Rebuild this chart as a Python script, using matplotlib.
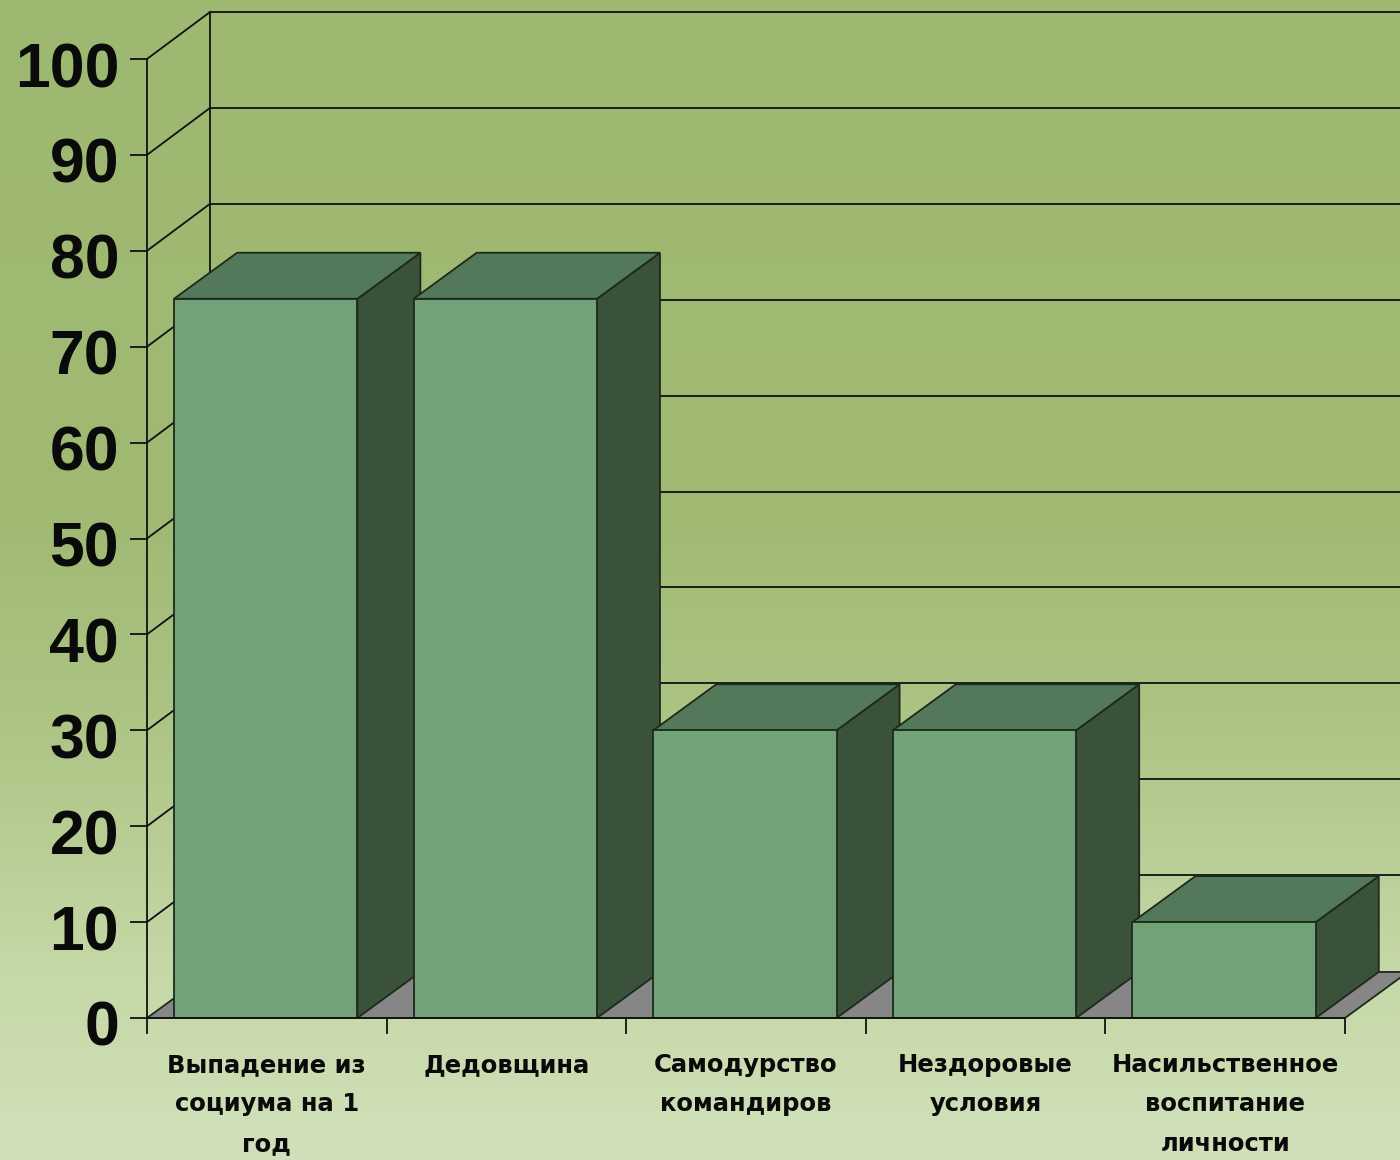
import numpy as np
import matplotlib
matplotlib.use("Agg")
import matplotlib.pyplot as plt
from matplotlib.colors import LinearSegmentedColormap
from matplotlib.patches import Polygon
from matplotlib.transforms import ScaledTranslation

categories = ["Выпадение из\nсоциума на 1\nгод", "Дедовщина", "Самодурство\nкомандиров",
              "Нездоровые\nусловия", "Насильственное\nвоспитание\nличности"]
values = [75, 75, 30, 30, 10]
y_ticks = [0, 10, 20, 30, 40, 50, 60, 70, 80, 90, 100]

# depth of the fake 3d box, in axis units
depth_x = 0.263
depth_y = 4.8
wall_y = 4.9
bar_left = 0.113
bar_width = 0.765

fig = plt.figure(figsize=(14, 11.6), dpi=100)

# background gradient
bg = fig.add_axes([0, 0, 1, 1], zorder=0)
cmap = LinearSegmentedColormap.from_list("bg", [(0, "#9DB871"), (0.45, "#A0BA74"), (0.62, "#ACC484"),
                                                (0.85, "#C6D9A8"), (1, "#D1E0BA")])
bg.imshow(np.linspace(0, 1, 256).reshape(-1, 1), cmap=cmap, aspect="auto", extent=[0, 1, 0, 1])
bg.axis("off")

ax = fig.add_axes([147 / 1400, (1160 - 1018) / 1160, 1198 / 1400, 959 / 1160], zorder=1)
ax.patch.set_alpha(0)
ax.set_xlim(0, 5)
ax.set_ylim(0, 100)

line = dict(color="#111111", lw=1.3, clip_on=False)


def poly(points, color, z):
    ax.add_patch(Polygon(points, closed=True, facecolor=color, edgecolor="#1c2a1c", lw=1.3, clip_on=False, zorder=z))


# floor
poly([(0, 0), (depth_x, depth_y), (5 + depth_x, depth_y), (5, 0)], "#868686", 1)

# walls and gridlines
ax.plot([depth_x, depth_x], [depth_y, 100 + wall_y], **line, zorder=1)
for t in y_ticks[1:]:
    ax.plot([0, depth_x], [t, t + wall_y], **line, zorder=1)
    ax.plot([depth_x, 5 + depth_x], [t + wall_y, t + wall_y], **line, zorder=1)

# bars, left to right so each one covers the side of the one before
for i, v in enumerate(values):
    x0 = i + bar_left
    x1 = x0 + bar_width
    z = 2 + i
    poly([(x1, 0), (x1 + depth_x, depth_y), (x1 + depth_x, v + depth_y), (x1, v)], "#3A523A", z)
    poly([(x0, v), (x0 + depth_x, v + depth_y), (x1 + depth_x, v + depth_y), (x1, v)], "#54785A", z)
    poly([(x0, 0), (x0, v), (x1, v), (x1, 0)], "#72A378", z)

for side in ["top", "right"]:
    ax.spines[side].set_visible(False)
for side in ["left", "bottom"]:
    ax.spines[side].set_linewidth(1.3)
    ax.spines[side].set_color("#111111")
    ax.spines[side].set_zorder(10)

ax.set_yticks(y_ticks)
ax.set_yticklabels([str(t) for t in y_ticks], fontfamily="Liberation Sans", fontweight="bold", fontsize=45)
ax.tick_params(axis="y", length=12, width=1.3, color="#111111", pad=8, labelcolor="#0a0a0a")
offset = ScaledTranslation(0, -5 / 100, fig.dpi_scale_trans)
for lab in ax.get_yticklabels():
    lab.set_transform(lab.get_transform() + offset)

ax.set_xticks(range(6))
ax.set_xticklabels([])
ax.tick_params(axis="x", which="major", length=11.5, width=1.3, color="#111111")
ax.set_xticks(np.arange(5) + 0.5, minor=True)
ax.set_xticklabels(categories, minor=True, fontfamily="DejaVu Sans", fontweight="bold", fontsize=17.5,
                   linespacing=1.82, color="#0a0a0a")
ax.tick_params(axis="x", which="minor", length=0, pad=25)

fig.savefig("out.png", dpi=100)
